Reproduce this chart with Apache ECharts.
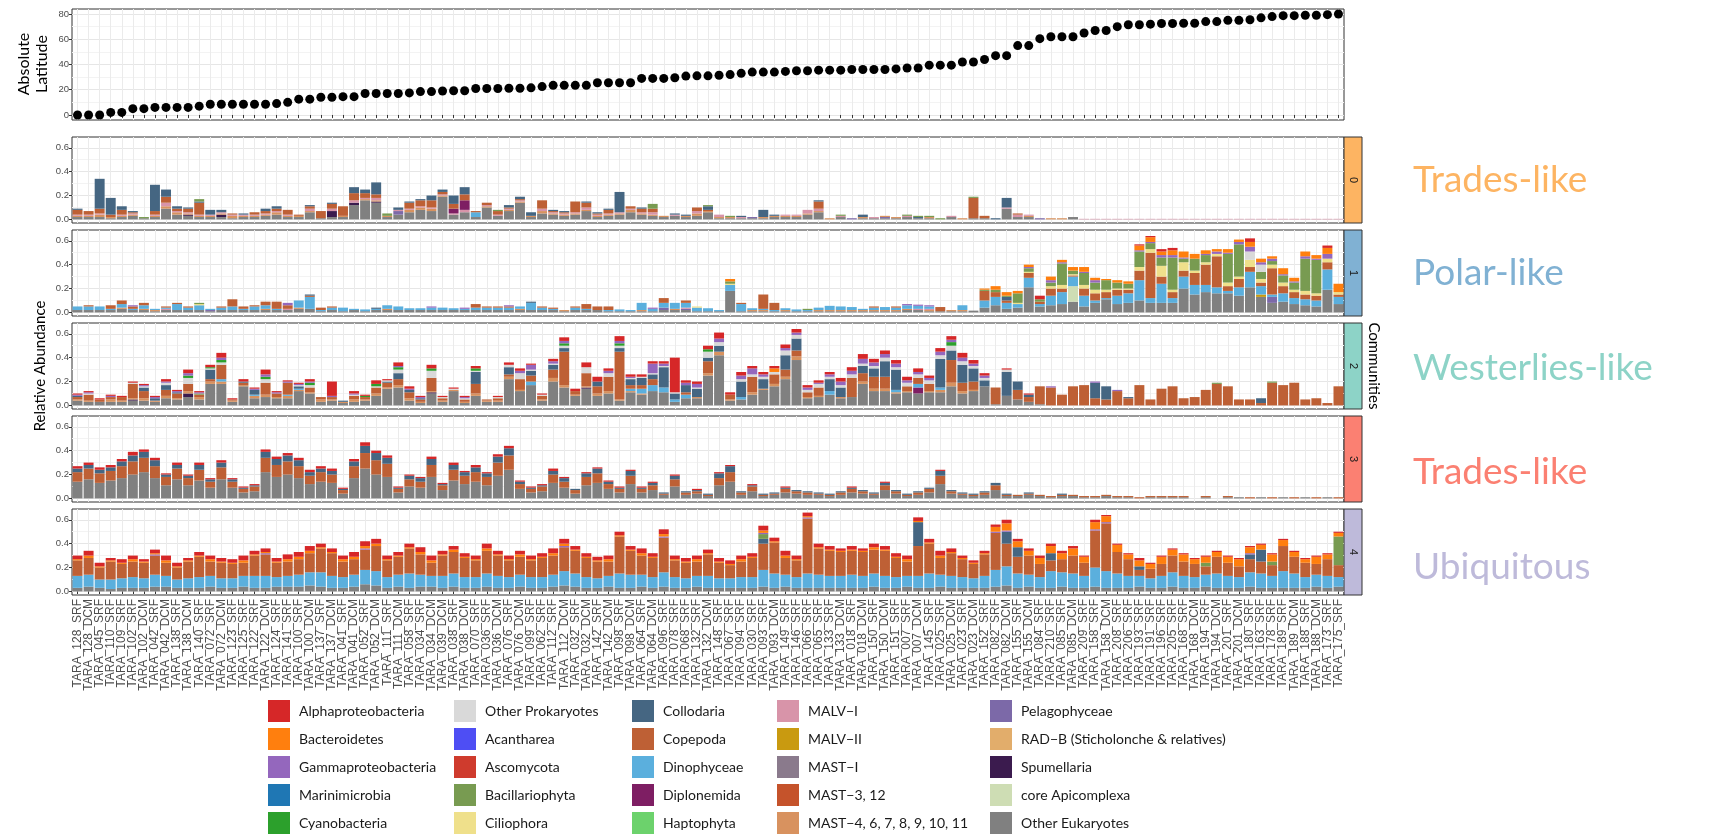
<!DOCTYPE html>
<html>
<head>
<meta charset="utf-8">
<script src="https://cdn.jsdelivr.net/npm/echarts@6/dist/echarts.min.js"></script>
<style>
  html, body { margin: 0; padding: 0; background: #fff; }
  #main { width: 1715px; height: 837px; }
</style>
</head>
<body>
<div id="main"></div>
<script>
// ---- samples, ordered by absolute latitude ----
var samples = [
  'TARA_128_SRF','TARA_128_DCM','TARA_045_SRF','TARA_110_SRF','TARA_109_SRF','TARA_102_SRF','TARA_102_DCM','TARA_042_SRF','TARA_042_DCM','TARA_138_SRF',
  'TARA_138_DCM','TARA_140_SRF','TARA_072_SRF','TARA_072_DCM','TARA_123_SRF','TARA_125_SRF','TARA_122_SRF','TARA_122_DCM','TARA_124_SRF','TARA_141_SRF',
  'TARA_100_SRF','TARA_100_DCM','TARA_137_SRF','TARA_137_DCM','TARA_041_SRF','TARA_041_DCM','TARA_052_SRF','TARA_052_DCM','TARA_111_SRF','TARA_111_DCM',
  'TARA_058_SRF','TARA_034_SRF','TARA_034_DCM','TARA_039_DCM','TARA_038_SRF','TARA_038_DCM','TARA_070_SRF','TARA_036_SRF','TARA_036_DCM','TARA_076_SRF',
  'TARA_076_DCM','TARA_099_SRF','TARA_062_SRF','TARA_112_SRF','TARA_112_DCM','TARA_032_SRF','TARA_032_DCM','TARA_142_SRF','TARA_142_DCM','TARA_098_SRF',
  'TARA_098_DCM','TARA_064_SRF','TARA_064_DCM','TARA_096_SRF','TARA_078_SRF','TARA_068_SRF','TARA_132_SRF','TARA_132_DCM','TARA_148_SRF','TARA_067_SRF',
  'TARA_094_SRF','TARA_030_SRF','TARA_093_SRF','TARA_093_DCM','TARA_149_SRF','TARA_146_SRF','TARA_066_SRF','TARA_065_SRF','TARA_133_SRF','TARA_133_DCM',
  'TARA_018_SRF','TARA_018_DCM','TARA_150_SRF','TARA_150_DCM','TARA_151_SRF','TARA_007_SRF','TARA_007_DCM','TARA_145_SRF','TARA_025_SRF','TARA_025_DCM',
  'TARA_023_SRF','TARA_023_DCM','TARA_152_SRF','TARA_082_SRF','TARA_082_DCM','TARA_155_SRF','TARA_155_DCM','TARA_084_SRF','TARA_210_SRF','TARA_085_SRF',
  'TARA_085_DCM','TARA_209_SRF','TARA_158_SRF','TARA_158_DCM','TARA_208_SRF','TARA_206_SRF','TARA_193_SRF','TARA_191_SRF','TARA_196_SRF','TARA_205_SRF',
  'TARA_168_SRF','TARA_168_DCM','TARA_194_SRF','TARA_194_DCM','TARA_201_SRF','TARA_201_DCM','TARA_180_SRF','TARA_163_SRF','TARA_178_SRF','TARA_189_SRF',
  'TARA_189_DCM','TARA_188_SRF','TARA_188_DCM','TARA_173_SRF','TARA_175_SRF'
];

var latitude = [
  0,0,0,2,2,5,5,6,6,6,
  6,7,8.5,8.5,8.5,8.5,8.5,8.5,9,10,
  12.5,12.5,14,14,14.5,14.5,17,17,17,17,
  17.5,18.5,18.5,19,19.2,19.2,21,21,21,21.2,
  21.2,21.5,22.5,23.5,23.5,23.5,23.5,25.5,25.5,25.5,
  25.5,29,29,29,29.5,30.8,31,31,31.5,32,
  33,34,34,34,34.5,35,35,35.5,35.5,35.5,
  36,36,36,36,36.5,37.2,37.2,39.5,39.5,39.5,
  42,42,44,47,47,55,55,60.5,62,62,
  62,65,67,67,70,71.5,71.5,72,72.5,72.5,
  72.7,72.7,74,74,75,75,75.5,77,78,78.7,
  78.7,79,79,79.5,80
];

// ---- relative abundance, in hundredths (0.01) ----
// community 0
var c0_oe = [2,2,2,1,2,3,1,2,9,4, 3,2,2,2,1,2,2,3,4,2, 2,6,1,2,2,12,16,14,2,4, 6,8,7,19,4,6,2,10,3,7, 14,2,5,4,3,4,7,2,3,4, 6,4,3,2,3,2,3,6,1,1, 1,1,1,2,2,2,4,6,0,2, 0,1,1,1,1,2,1,1,0,2, 0,1,1,0,9,2,2,0,0,0, 2,0,0,0,0,0,0,0,0,0, 0,0,0,0,0,0,0,0,0,0, 0,0,0,0,0];
var c0_spum = [0,0,0,0,0,0,0,0,0,0, 1,0,0,2,0,0,0,0,0,0, 0,0,0,5,0,2,0,1,0,0, 0,0,0,0,0,0,0,0,0,0, 0,0,0,0,0,0,0,0,0,0, 0,0,0,0,0,0,0,0,0,0, 0,0,0,0,0,0,0,0,0,0, 0,0,0,0,0,0,0,0,0,0, 0,0,0,0,0,0,0,0,0,0, 0,0,0,0,0,0,0,0,0,0, 0,0,0,0,0,0,0,0,0,0, 0,0,0,0,0];
var c0_pel = [0,0,0,0,0,0,0,0,0,0, 0,0,0,0,0,0,0,0,0,0, 0,0,0,0,0,0,0,0,0,3, 0,0,0,0,0,0,0,0,0,0, 0,0,0,0,0,0,0,0,0,0, 0,0,0,0,0,0,0,0,0,0, 0,1,0,0,0,0,0,0,0,0, 1,0,0,1,0,0,0,0,0,0, 0,0,0,0,0,0,0,1,0,0, 0,0,0,0,0,0,0,0,0,0, 0,0,0,0,0,0,0,0,0,0, 0,0,0,0,0];
var c0_mast = [1,1,2,1,1,1,0,1,2,2, 1,1,1,1,2,1,1,1,2,1, 1,1,0,0,1,0,1,1,1,0, 2,2,2,1,0,0,0,1,0,1, 1,1,2,1,1,1,1,1,1,1, 2,1,1,1,0,1,2,1,1,1, 0,0,1,1,1,1,1,1,1,0, 0,1,0,1,1,0,0,1,0,0, 1,0,0,0,0,0,1,0,1,1, 0,0,0,0,0,0,0,0,0,0, 0,0,0,0,0,0,0,0,0,0, 0,0,0,0,0];
var c0_malv = [1,1,1,0,1,1,0,1,3,1, 1,1,1,1,1,1,1,1,1,1, 0,2,0,2,0,2,1,2,0,1, 1,1,1,1,1,2,0,1,1,1, 1,0,2,1,1,1,2,1,1,1, 1,1,2,0,1,0,2,0,2,0, 1,0,0,0,1,1,3,2,0,1, 0,0,1,0,0,1,0,0,0,1, 0,0,0,0,1,2,1,0,0,0, 0,0.5,0.5,0.5,0.5,0.5,0.5,0.5,0.5,0.5, 0.5,0.5,0.5,0.5,0.5,0.5,0.5,0.5,0.5,0.5, 0.5,0.5,0.5,0.5,0.5];
var c0_dipl = [0,0,0,0,0,0,0,0,0,0, 0,0,0,0,0,0,0,0,0,0, 0,0,0,0,0,0,0,0,0,0, 0,0,0,0,4,8,0,0,0,0, 0,0,0,0,0,0,0,0,0,0, 0,0,0,0,0,0,0,0,0,0, 0,0,0,0,0,0,0,0,0,0, 0,0,0,0,0,0,0,0,0,0, 0,0,0,0,0,0,0,0,0,0, 0,0,0,0,0,0,0,0,0,0, 0,0,0,0,0,0,0,0,0,0, 0,0,0,0,0];
var c0_dino = [0,0,0,0,0,0,0,0,0,0, 0,0,0,0,0,0,0,0,0,0, 0,0,0,0,0,0,0,0,0,0, 0,0,0,0,0,0,4,0,0,0, 0,0,0,0,0,0,0,0,0,0, 0,0,0,0,0,0,0,0,0,0, 0,0,0,0,0,0,0,0,0,0, 0,0,0,0,0,0,0,0,0,0, 0,0,0,0,0,0,0,0,0,0, 0,0,0,0,0,0,0,0,0,0, 0,0,0,0,0,0,0,0,0,0, 0,0,0,0,0];
var c0_cope = [4,3,4,2,4,1,0,3,5,2, 3,10,0,0,1,0,2,2,2,4, 1,2,6,4,8,6,4,3,0,0, 5,5,6,2,4,5,1,2,3,1, 1,0,7,1,1,9,4,1,3,0, 2,3,3,0,0,0,3,1,0,0, 0,0,0,0,0,0,0,6,0,0, 0,0,0,0,0,0,0,0,0,0, 0,17,2,0,0,1,0,0,0,0, 0,0,0,0,0,0,0,0,0,0, 0,0,0,0,0,0,0,0,0,0, 0,0,0,0,0];
var c0_coll = [1,0,25,14,3,1,0,22,6,2, 1,1,4,2,0,1,0,2,2,0, 0,1,0,1,0,5,3,10,0,2, 1,1,4,2,7,6,0,0,0,2, 2,3,0,1,1,0,1,1,1,17, 0,1,0,0,1,1,0,3,0,0, 1,0,6,1,0,0,0,1,0,0, 0,2,0,0,0,0,1,0,0,0, 0,0,0,1,8,0,0,0,0,0, 0,0,0,0,0,0,0,0,0,0, 0,0,0,0,0,0,0,0,0,0, 0,0,0,0,0];
var c0_bacil = [0,0,0,0,0,0,1,0,0,0, 0,2,0,0,0,0,0,0,0,0, 0,0,0,0,0,0,0,0,2,0, 0,0,0,0,0,0,0,0,1,0, 0,0,0,0,0,0,0,0,0,0, 0,0,4,0,0,0,0,1,0,1, 0,0,0,0,0,0,0,0,0,1, 0,0,0,0,0,1,1,1,1,0, 0,1,0,0,0,0,0,0,0,0, 0,0,0,0,0,0,0,0,0,0, 0,0,0,0,0,0,0,0,0,0, 0,0,0,0,0];

// community 1
var c1_oe = [2,2,2,2,3,2,2,1,2,2, 2,2,1,2,2,2,2,2,2,2, 3,3,1,2,1,2,1,2,2,2, 2,2,2,2,2,2,2,2,2,2, 2,2,2,2,1,2,2,2,1,1, 1,1,1,2,2,2,1,1,1,18, 1,1,1,1,1,1,1,1,1,1, 1,1,1,1,1,2,2,1,1,1, 1,1.5,4,6,3,4,21,5,6,7, 9,5,8,11,7,8,10,8,8,8, 20,15,17,16,16,14,21,13,8,9, 7,6,5,19,7];
var c1_capi = [0,0,0,0,0,0,0,0,0,0, 0,0,0,0,0,0,0,0,0,0, 0,0,0,0,0,0,0,0,0,0, 0,0,0,0,0,0,0,0,0,0, 0,0,0,0,0,0,0,0,0,0, 0,0,0,0,0,0,0,0,0,0, 0,0,0,0,0,0,0,0,0,0, 0,0,0,0,0,0,0,0,0,0, 0,0,0,0,0,0,0,0,0,0, 13,0,0,0,0,0,0,0,0,0, 0,0,0,0,0,0,0,0,0,0, 0,0,0,0,0];
var c1_pel = [0,0,0,0,0,0,0,0,0,0, 0,0,1,0,0,0,0,0,0,0, 0,0,0,0,0,0,0,0,0,0, 0,0,0,0,0,0,0,0,0,0, 0,0,0,0,0,0,0,0,0,0, 0,0,0,2,0,1,0,0,0,0, 0,0,0,0,0,0,0,0,0,0, 0,0,0,0,0,0,0,0,0,0, 0,0,0,0,0,0,0,0,0,0, 0,0,0,0,0,0,0,0,0,0, 0,0,0,0,0,0,0,0,5,0, 0,0,0,0,0];
var c1_mast = [0,0,0,0,1,0,1,1,0,0, 0,0,0,0,0,0,0,1,0,0, 1,0,0,0,0,0,0,0,1,0, 0,0,0,0,0,0,0,0,0,0, 1,0,0,0,1,0,0,0,0,0, 0,1,0,0,1,0,0,0,0,0, 0,1,1,0,1,0,0,1,1,1, 1,1,1,1,1,1,0,1,0,1, 1,0,0,0,0,0,0,0,0,0, 0,0,0,0,0,0,0,0,0,0, 0,0,0,0,0,0,0,0,0,0, 0,0,0,0,0];
var c1_malv2 = [0,0,0,0,0,0,0,0,0,0, 0,0,0,0,0,0,0,0,0,0, 0,0,0,0,0,0,0,0,0,0, 0,0,0,0,0,0,0,0,0,0, 0,0,0,0,0,0,0,0,0,0, 0,0,0,0,0,0,0,0,0,0, 0,0,0,0,0,0,0,0,0,0, 0,0,0,0,0,0,0,0,0,0, 0,0,0,0,0,0,0,0,0,0, 0,0,0,0,0,0,0,0,0,0, 0,0,0,0,0,0,0,2,0,0, 0,0,0,0,0];
var c1_malv = [0,0,0,0,0,0,0,0,1,0, 0,0,0,0,0,0,0,0,0,1, 0,0,0,0,0,0,0,0,0,0, 0,0,0,0,0,0,0,0,0,0, 0,0,0,0,0,0,0,0,0,0, 0,0,0,0,0,1,0,0,0,0, 0,0,0,0,0,0,0,0,0,0, 0,0,0,0,0,0,1,1,0,0, 0,0,0,0,0,0,0,0,0,0, 0,0,0,0,0,0,0,0,0,0, 0,0,0,0,0,0,0,0,0,0, 0,0,0,0,0];
var c1_dino = [3,3,3,1,3,1,3,1,1,5, 2,4,1,2,3,1,3,3,1,0, 6,10,1,2,3,1,1.5,1,3,3, 1.5,1.5,2,2,1.5,1,2,2,2,2, 2,6,2,1,0,2,1,0,1,1.5, 1,6,2,4,5,4,3,2.5,1,5, 6,1.5,1,1,1.5,1.5,1,2,3.5,3, 2.5,1,2,2.5,2,3,2.5,2,0,0, 4,0,6,7,5,3,8,2,8,10, 8,9,2,1,7,8,17,4,16,4, 10,8,6,5,2,7,13,7,2,7, 5,5,5,17,6];
var c1_cope = [0,1,0,3,3,2,2,0,1,1, 1,0,0,1,6,2,1,3,6,3, 0,1,2,1,0,0,0,0,0,0, 0,0,0,0,0,0,3,1,1,1, 0,0,1,1,0,1,4,3,3,0, 0,0,0,4,0,2,0,0,0,0, 1,0,12,6,0,0,0,0,0,0, 0,0,1,0,1,0,0,0,3.5,0, 0,0,8,4,2,0,4,2,6,3, 1,6,6,5,5,3,8,38,6,5, 5,10,17,26,4,7,4,3,22,6, 5,4,4,6,2];
var c1_coll = [0,0,0,0,0,0,0,0,0,0, 0,0,0,0,0,0,0,0,0,0, 0,1,0,0,0,0,0,1,0,0, 0,0,0,0,0,0,0,0,0,0, 0,1,0,0,0,0,0,0,0,0, 0,0,0,0,0,0,0,0,0,0, 0,0,0,0,0,0,0,0,0,0, 0,0,0,0,0,0,0,0,0,0, 0,0,0,0,3,0,0,0,0,0, 0,0,0,0,0,0,0,0,0,0, 0,0,0,0,0,0,0,0,0,0, 0,0,0,0,0];
var c1_cili = [0,0,0,0,0,0,0,0,0,0, 0,1,0,0,0,0,0,0,0,0, 0,0,0,0,0,0,0,0,0,0, 0,0,0,0,0,0,0,0,0,0, 0,0,0,0,0,0,0,0,0,0, 0,0,0,0,0,0,1,0,0,1, 0,0,0,0,0,0,0,0,0,0, 0,0,0,0,0,0,0,0,0,0, 0,0,0,0,0,1,1,0,2,3, 1,3,3,2,1,1,3,3,9,2, 7,2,2,2,3,2,6,3,3,3, 2,3,2,3,2];
var c1_bacil = [0,0,0,0,0,0,0,0,0,0, 0,1,0,0,0,0,0,0,0,0, 0,0,0,0,0,0,0,0,0,0, 0,0,0,0,0,0,0,0,0,0, 0,0,0,0,0,0,0,0,0,0, 0,0,0,0,0,0,0,0,0,2, 0,0,0,0,0,0,1,0,0,0, 0,0,0,0,0,0,0,0,0,0, 0,0,1,2,1,8,3,2,3,18, 3,10,6,8,5,4,13,5,7,27, 3,10,6,0,24,27,0,6,3,6, 6,27,28,0,0];
var c1_oprok = [0,0,0,0,0,0,0,0,0,0, 0,0,0,0,0,0,0,0,0,0, 0,0,0,0,0,0,0,0,0,0, 0,0,0,0,0,0,0,0,0,0, 0,0,0,0,0,0,0,0,0,0, 0,0,0,0,0,0,0,0,0,0, 0,0,0,0,0,0,0,0,0,0, 0,0,0,0,0,0,0,0,0,0, 0,0,0,0,0,0,0,0,0,0, 0,0,0,0,0,0,0,0,0,0, 0,0,0,0,0,0,7,6,0,0, 0,0,0,0,0];
var c1_gamma = [0,0,0,0,0,1,0,0,0,0, 0,0,0,0,0,0,0,0,0,2, 0,0,0,0,0,0,0,0,0,0, 0,0,1,0,0,1,0,0,0,1, 0,0,0,0,0,0,0,0,0,0, 0,0,1,0,0,0,0,0,0,0, 0,0,0,0,0,0,0,0,0,0, 0,0,0,0,0,1,1,1,0,0, 0,0,0,0,0,0,1,0,2,1, 0,1,2,0,0,0,1,1,2,2, 1,0,1,2,1,2,4,2,2,1, 1,2,1,4,0];
var c1_bact = [0,0,0,0,0,0,0,0,0,0, 0,0,0,0,0,0,0,0,0,0, 0,0,0,0,0,0,0,0,0,0, 0,0,0,0,0,0,0,0,0,0, 0,0,0,0,0,0,0,0,0,0, 0,0,0,0,0,0,0,0,0,2, 0,0,0,0,0,0,0,0,0,0, 0,0,0,0,0,0,0,0,0,0, 0,0,1,3,3,2,2,0,3,2, 3,4,2,1,2,2,4,4,3,4, 5,4,3,2,3,2,4,3,2,5, 3,4,3,5,7];
var c1_alpha = [0,0,0,0,0,0,0,0,0,0, 0,0,0,0,0,0,0,0,0,0, 0,0,0,0,0,0,0,0,0,0, 0,0,0,0,0,0,0,0,0,0, 0,0,0,0,0,0,0,0,0,0, 0,0,0,0,0,0,0,0,0,0, 0,0,0,0,0,0,0,0,0,0, 0,0,0,0,0,0,0,0,0,0, 0,0,0,0,0,0,0,3,0,0, 0,0,0,0,0,0,1,1,2,2, 0,0,0,0,0,0,3,0,0,0, 0,0,0,2,0];

// community 2
var c2_oe = [4,3,3,3,3,4,4,3,6,5, 7,5,18,18,3,16,6,7,6,6, 12,10,3,4,2,3,4,8,14,15, 4,2,10,3,12,2,8,3,3,22, 12,17,4,20,15,8,14,8,10,4, 11,9,12,11,3,6,6,25,42,4, 5,9,13,16,22,38,6,7,9,6, 7,18,12,12,10,11,10,11,11,16, 10,12,16,1,8,5,3,1,0,0, 0,0,0,0,0,0,0,0,0,0, 0,0,0,0,0,0,0,0,0,0, 0,0,0,0,0];
var c2_spum = [0,0,0,0,0,1,0,0,0,0, 3,0,0,0,0,0,0,0,0,0, 0,0,0,0,0,0,0,0,0,0, 0,0,1,0,0,0,0,0,0,0, 0,0,0,0,0,0,1,0,0,0, 0,0,0,0,0,0,0,0,0,0, 0,0,0,0,0,0,0,0,0,0, 0,0,0,0,0,0,0,0,0,0, 0,0,0,0,0,0,0,0,0,0, 0,0,0,0,0,0,0,0,0,0, 0,0,0,0,0,0,0,0,0,0, 0,0,0,0,0];
var c2_mast = [1,1,0,2,1,1,2,1,2,1, 2,2,2,2,1,1,2,2,1,2, 1,1,2,1,1,2,1,2,1,2, 2,1,1,1,1,1,2,1,1,2, 1,0,1,3,2,1,1,2,2,1, 1,1,0,0,0,0,1,2,3,1, 0,2,1,2,2,3,1,1,0,1, 0,2,2,2,1,1,0,1,2,3, 2,1,0,0,0,0,0,0,0,0, 0,0,0,0,0,0,0,0,0,0, 0,0,0,0,0,0,0,0,0,0, 0,0,0,0,0];
var c2_dipl = [0,0,0,0,0,0,0,0,0,0, 0,0,0,0,0,0,0,0,0,0, 0,0,0,0,0,0,0,0,0,0, 0,0,0,0,0,0,0,0,0,0, 0,0,0,0,0,0,0,0,0,0, 0,0,0,0,0,0,0,0,0,0, 0,0,0,0,0,0,0,0,0,0, 0,0,0,0,0,0,5,0,0,0, 0,0,0,0,0,0,0,0,0,0, 0,0,0,0,0,0,0,0,0,0, 0,0,0,0,0,0,0,0,0,0, 0,0,0,0,0];
var c2_dino = [0,0,0,0,0,0,0,0,0,0, 0,0,0,2,0,0,1,0,0,1, 1,0,0,0,0,0,0,0,0,0, 0,0,0,0,0,0,0,0,0,0, 0,3,0,0,0,0,0,0,0,0, 2,4,5,4,2,3,0,0,0,0, 2,0,0,0,0,0,0,0,3,0, 0,0,0,0,2,0,3,0,2,0, 0,0,0,0,0,0,0,0,0,0, 0,0,0,0,0,0,0,0,0,0, 0,0,0,0,0,0,0,0,0,0, 0,0,0,0,0];
var c2_cope = [2,5,2,2,3,12,6,0,5,4, 6,2,2,12,1,2,0,10,3,10, 0,4,2,2,0,3,2,5,4,5, 5,2,11,2,0,2,8,1,2,2, 9,5,3,7,28,3,11,6,12,40, 3,3,5,0,0,2,0,10,0,4, 0,13,0,8,6,5,4,7,0,0, 16,7,10,10,0,4,5,6,0,19, 7,7,0,14,0,8,4,15,15,9, 16,17,6,5,12,6,17,5,14,16, 6,7,13,18,16,5,5,2,19,17, 19,5,6,2,16];
var c2_coll = [1,0,0,0,0,0,3,2,4,1, 0,0,8,0,0,1,4,0,0,0, 2,0,0,0,1,0,0,0,1,5, 2,1,0,0,0,0,10,0,0,6, 0,4,0,4,3,0,0,4,0,3, 5,6,4,17,5,6,7,3,5,0, 13,0,8,0,12,10,0,0,10,8, 0,6,7,13,17,0,0,0,24,8, 15,11,5,0,20,7,2,0,0,0, 0,0,13,11,0,1,0,0,0,0, 0,0,0,0,0,0,0,4,0,0, 0,0,0,0,0];
var c2_bacil = [0,0,0,0,0,0,0,0,0,0, 0,1,0,0,0,0,0,0,0,0, 0,0,0,0,0,0,0,0,0,0, 0,0,0,0,0,0,0,0,0,0, 0,0,0,0,0,0,0,0,0,0, 0,0,0,0,0,0,0,0,0,0, 0,0,0,0,0,0,0,0,0,0, 0,0,0,0,0,0,0,0,0,0, 0,0,0,0,0,0,0,0,0,0, 0,0,0,0,0,0,0,0,0,0, 0,0,0,1,0,0,0,0,1,0, 0,0,0,0,0];
var c2_oprok = [0,1,0,0,0,1,1,0,2,0, 5,0,1,2,0,0,0,3,0,0, 1,2,0,0,0,1,0,1,1,3, 0,0,6,1,1,1,1,0,1,2, 5,1,1,1,2,0,5,0,3,2, 1,1,1,1,1,0,1,5,3,0, 2,2,2,2,4,3,2,3,2,2, 3,2,2,3,2,3,3,3,3,4, 3,2,2,0,2,0,0,0,0,0, 0,0,0,0,0,0,0,0,0,0, 0,0,0,0,0,0,0,0,0,0, 0,0,0,0,0];
var c2_cyano = [0,0,0,0,0,0,0,0,0,0, 2,0,1,2,0,0,0,2,0,0, 0,2,0,0,0,0,1,2,0,2, 0,0,2,0,0,0,2,0,0,0, 0,0,0,0,2,0,0,0,0,2, 0,0,0,0,0,0,0,2,0,0, 0,0,0,0,0,0,0,0,0,0, 0,0,0,0,0,0,0,0,0,3, 0,0,0,0,0,0,0,0,0,0, 0,0,0,0,0,0,0,0,0,0, 0,0,0,0,0,0,0,0,0,0, 0,0,0,0,0];
var c2_gamma = [1,1,0,1,0,0,1,1,1,1, 2,1,0,2,0,0,1,2,1,1, 1,1,0,1,0,1,0,0,0,1, 1,1,0,0,0,1,0,0,0,0, 2,4,0,2,2,0,0,0,2,2, 1,0,8,2,0,2,3,0,3,0, 3,5,2,0,2,2,2,1,2,3, 3,4,3,3,3,2,2,2,3,2, 3,2,2,0,0,0,0,0,1,0, 0,0,1,0,1,0,0,0,0,0, 0,0,0,0,0,0,0,0,0,0, 0,0,0,0,0];
var c2_bact = [0,0,0,0,0,0,0,0,0,0, 0,0,0,0,0,0,0,0,0,0, 0,0,0,0,0,0,0,0,0,0, 0,0,0,0,0,0,0,0,0,0, 0,0,0,0,0,0,0,0,0,0, 0,0,0,0,0,0,0,0,0,0, 0,0,0,3,0,0,0,0,0,0, 0,0,0,0,0,0,0,0,0,0, 0,0,0,0,0,0,0,0,0,0, 0,0,0,0,0,0,0,0,0,0, 0,0,0,0,0,0,0,0,0,0, 0,0,0,0,0];
var c2_alpha = [1,1,1,1,1,1,1,1,2,1, 3,1,2,4,1,2,1,4,1,1, 1,2,0,12,0,2,1,3,1,3, 2,1,3,1,1,1,2,0,1,2, 2,1,1,2,3,2,4,4,2,4, 2,2,2,2,29,2,2,3,5,2, 3,2,2,2,3,3,2,2,2,3, 3,4,3,3,3,3,3,2,3,3, 4,3,2,0,1,0,1,0,0,0, 0,0,0,0,0,0,0,0,0,0, 0,0,0,0,0,0,0,0,0,0, 0,0,0,0,0];

// community 3
var c3_oe = [14,16,13,15,17,20,22,17,11,16, 11,15,9,16,9,5,6,22,18,20, 17,12,14,13,4,17,25,20,18,5, 10,9,18,7,15,12,14,11,19,24, 8,5,6,13,9,4,11,13,8,5, 12,5,7,3,10,3,4,2,11,14, 3,6,2,3,5,4,3,3,2,3, 5,4,3,7,4,2,3,5,12,4, 3,2,3,7,2,2,3,2,1,2, 2,1,1,2,1,1,0,1,1,1, 1,0,1,0,1,1,0,1,0,1, 0,1,0,1,0];
var c3_cope = [8,9,8,8,10,11,12,10,7,9, 6,9,5,10,5,3,4,12,10,11, 10,7,8,7,3,10,13,12,11,3, 6,5,10,4,9,7,8,7,11,12, 4,3,4,7,5,3,7,8,4,3, 7,3,4,1,6,2,2,1,6,8, 2,4,1,1,3,2,2,1,1,2, 3,2,1,4,2,1,2,3,7,2, 1,1,2,4,1,1,1,1,1,1, 1,1,1,1,1,1,1,1,1,1, 1,0,1,0,1,0,1,0,1,0, 1,0,1,0,1];
var c3_coll = [3,3,3,3,4,5,5,5,2,3, 2,4,2,4,2,1,1,5,5,5, 5,3,3,3,1,4,6,6,5,1, 3,3,5,1,4,3,4,3,5,6, 2,1,1,3,3,1,3,4,2,1, 4,1,2,1,3,1,1,1,4,5, 1,1,1,1,1,1,1,1,1,1, 1,1,1,2,1,1,1,1,4,1, 1,1,1,2,1,0,1,0,0,1, 0,0,0,0,0,0,0,0,0,0, 0,0,0,0,0,0,0,0,0,0, 0,0,0,0,0];
var c3_alpha = [2,2,2,2,2,3,2,2,1,2, 1,2,1,2,1,1,1,2,2,2, 2,2,2,2,1,2,3,2,2,1, 1,1,2,1,2,1,2,1,2,2, 1,1,1,2,1,0,1,1,1,1, 1,1,1,0,1,0,1,0,1,1, 0,1,0,0,1,0,0,0,0,0, 1,0,0,1,0,0,0,0,1,0, 0,0,0,0,0,0,0,0,0,0, 0,0,0,0,0,0,0,0,0,0, 0,0,0,0,0,0,0,0,0,0, 0,0,0,0,0];

// community 4
var c4_oe = [3,4,3,2,3,3,3,4,4,3, 3,3,4,3,3,4,3,3,4,4, 4,5,4,3,3,4,6,5,3,4, 3,4,4,3,4,3,3,4,3,3, 4,3,3,4,5,4,3,3,4,3, 3,4,3,4,3,3,4,3,3,3, 3,3,4,3,4,3,3,3,3,3, 3,3,4,3,3,4,3,3,4,3, 3,3,3,4,5,3,4,3,3,4, 3,3,4,3,3,3,4,3,3,4, 3,3,4,3,3,3,4,3,3,3, 3,3,4,3,4];
var c4_dino = [10,10,7,8,8,9,8,10,9,7, 8,9,9,8,8,9,10,10,8,9, 10,11,12,10,9,10,12,12,9,10, 12,10,9,10,11,9,9,11,10,9, 10,9,9,10,12,11,9,8,9,12, 11,10,9,12,9,8,9,10,8,8, 9,9,14,12,10,9,12,11,10,10, 11,10,11,10,9,9,10,12,10,10, 9,8,10,14,16,12,10,9,14,12, 12,10,16,14,12,10,9,8,10,12, 10,9,10,12,10,9,12,12,10,14, 12,9,10,10,8];
var c4_cope = [13,14,10,15,12,13,13,16,11,10, 14,17,12,13,12,11,17,18,12,12, 13,16,20,19,13,13,17,21,14,15, 21,17,11,17,18,16,14,19,17,14, 15,14,16,16,20,19,16,14,12,31, 20,16,16,29,14,13,12,18,13,11, 13,16,22,26,14,14,46,22,21,20, 20,20,20,21,16,12,25,25,14,19, 15,12,18,31,19,14,16,11,9,11, 15,11,31,40,18,14,5,8,10,14, 12,11,7,14,11,9,11,10,9,21, 14,12,9,14,10];
var c4_coll = [0,0,0,0,0,0,0,0,0,0, 0,0,0,0,0,0,0,0,0,0, 0,0,0,0,0,0,0,0,0,0, 0,0,0,0,0,0,0,0,0,0, 0,0,0,0,0,0,0,0,0,0, 0,0,0,0,0,0,0,0,0,0, 0,0,4,0,0,0,0,0,0,0, 0,0,0,0,0,0,20,0,0,0, 0,0,0,0,10,8,0,0,6,0, 0,0,0,0,0,0,3,0,0,0, 0,0,0,0,0,0,4,10,0,0, 0,0,0,0,0];
var c4_bacil = [0,0,0,0,0,0,0,0,0,0, 0,0,0,0,0,0,0,0,0,0, 0,0,0,0,0,0,0,0,0,0, 0,0,0,0,0,0,0,0,0,0, 0,0,0,0,0,0,0,0,0,0, 0,0,0,0,0,0,0,0,0,0, 0,0,4,0,0,0,0,0,0,0, 0,0,0,0,0,0,0,0,0,0, 0,0,0,0,0,0,0,0,0,0, 0,0,0,0,0,0,0,0,0,0, 0,0,3,0,0,0,0,0,3,0, 0,0,0,0,24];
var c4_gamma = [0,0,0,0,0,0,0,1,0,0, 0,0,0,0,0,0,0,1,0,0, 0,0,0,0,0,0,1,0,0,0, 0,0,0,0,0,0,0,0,0,0, 0,0,0,0,1,0,0,0,0,0, 0,0,0,1,0,0,0,0,0,0, 0,0,1,0,0,0,1,0,0,0, 0,0,0,0,0,0,0,0,0,0, 0,0,0,1,1,0,0,0,0,0, 0,0,1,1,0,0,0,0,0,0, 0,0,0,0,0,0,1,0,0,0, 0,0,0,0,0];
var c4_bact = [1,2,1,1,1,2,1,1,2,1, 1,1,2,1,1,2,1,1,1,2, 2,2,1,1,2,2,2,2,1,1, 1,2,2,1,2,1,1,2,1,1, 2,1,1,2,2,1,1,1,2,1, 1,2,1,2,1,1,2,1,1,1, 2,1,2,1,2,1,1,1,1,1, 1,1,2,1,1,2,1,1,2,1, 1,1,1,4,6,5,4,5,6,5, 6,5,6,5,6,4,5,4,6,5, 6,4,5,4,5,6,5,4,6,5, 4,3,6,4,3];
var c4_alpha = [3,4,3,2,3,3,2,3,4,3, 2,3,3,3,3,4,3,3,3,4, 4,4,3,3,3,4,4,4,3,3, 3,4,4,3,3,3,3,4,3,3, 3,3,3,4,4,3,3,3,3,3, 3,4,3,4,3,3,3,3,3,3, 3,3,4,3,4,3,3,3,3,2, 3,2,3,3,3,3,3,3,4,3, 2,2,2,2,3,2,2,2,2,2, 2,1,2,1,1,1,2,1,1,1, 1,1,1,1,1,1,1,1,1,1, 1,1,1,1,1];

// ---- taxa, bottom of stack first ----
var taxa = [
  ['Other Eukaryotes', '#808080'],
  ['core Apicomplexa', '#CEDDB4'],
  ['Spumellaria', '#3B1B4E'],
  ['RAD\u2212B (Sticholonche & relatives)', '#E2AD6B'],
  ['Pelagophyceae', '#7C69A8'],
  ['MAST\u22124, 6, 7, 8, 9, 10, 11', '#D8925F'],
  ['MAST\u22123, 12', '#C5532B'],
  ['MAST\u2212I', '#8A7A8C'],
  ['MALV\u2212II', '#C99A10'],
  ['MALV\u2212I', '#D894A9'],
  ['Haptophyta', '#6CD26C'],
  ['Diplonemida', '#7E1E63'],
  ['Dinophyceae', '#5BAFDD'],
  ['Copepoda', '#BE6035'],
  ['Collodaria', '#456682'],
  ['Ciliophora', '#EFE08B'],
  ['Bacillariophyta', '#789B51'],
  ['Ascomycota', '#CF3B2D'],
  ['Acantharea', '#4E4EF4'],
  ['Other Prokaryotes', '#D9D9D9'],
  ['Cyanobacteria', '#2CA02C'],
  ['Marinimicrobia', '#1F77B4'],
  ['Gammaproteobacteria', '#9467BD'],
  ['Bacteroidetes', '#FF7F0E'],
  ['Alphaproteobacteria', '#D62728']
];

var legendCols = [
  ['Alphaproteobacteria', 'Bacteroidetes', 'Gammaproteobacteria', 'Marinimicrobia', 'Cyanobacteria'],
  ['Other Prokaryotes', 'Acantharea', 'Ascomycota', 'Bacillariophyta', 'Ciliophora'],
  ['Collodaria', 'Copepoda', 'Dinophyceae', 'Diplonemida', 'Haptophyta'],
  ['MALV\u2212I', 'MALV\u2212II', 'MAST\u2212I', 'MAST\u22123, 12', 'MAST\u22124, 6, 7, 8, 9, 10, 11'],
  ['Pelagophyceae', 'RAD\u2212B (Sticholonche & relatives)', 'Spumellaria', 'core Apicomplexa', 'Other Eukaryotes']
];

var communities = ['Trades-like', 'Polar-like', 'Westerlies-like', 'Trades-like', 'Ubiquitous'];
var communityColors = ['#FDB462', '#80B1D3', '#8DD3C7', '#FB8072', '#BEBADA'];

var panels = [
  { 'Other Eukaryotes': c0_oe, 'Spumellaria': c0_spum, 'Pelagophyceae': c0_pel,
    'MAST\u22124, 6, 7, 8, 9, 10, 11': c0_mast, 'MALV\u2212I': c0_malv, 'Diplonemida': c0_dipl,
    'Dinophyceae': c0_dino, 'Copepoda': c0_cope, 'Collodaria': c0_coll, 'Bacillariophyta': c0_bacil },
  { 'Other Eukaryotes': c1_oe, 'core Apicomplexa': c1_capi, 'Pelagophyceae': c1_pel,
    'MAST\u22124, 6, 7, 8, 9, 10, 11': c1_mast, 'MALV\u2212II': c1_malv2, 'MALV\u2212I': c1_malv,
    'Dinophyceae': c1_dino, 'Copepoda': c1_cope, 'Collodaria': c1_coll, 'Ciliophora': c1_cili,
    'Bacillariophyta': c1_bacil, 'Other Prokaryotes': c1_oprok, 'Gammaproteobacteria': c1_gamma,
    'Bacteroidetes': c1_bact, 'Alphaproteobacteria': c1_alpha },
  { 'Other Eukaryotes': c2_oe, 'Spumellaria': c2_spum, 'MAST\u22124, 6, 7, 8, 9, 10, 11': c2_mast,
    'Diplonemida': c2_dipl, 'Dinophyceae': c2_dino, 'Copepoda': c2_cope, 'Collodaria': c2_coll,
    'Bacillariophyta': c2_bacil, 'Other Prokaryotes': c2_oprok, 'Cyanobacteria': c2_cyano,
    'Gammaproteobacteria': c2_gamma, 'Bacteroidetes': c2_bact, 'Alphaproteobacteria': c2_alpha },
  { 'Other Eukaryotes': c3_oe, 'Copepoda': c3_cope, 'Collodaria': c3_coll, 'Alphaproteobacteria': c3_alpha },
  { 'Other Eukaryotes': c4_oe, 'Dinophyceae': c4_dino, 'Copepoda': c4_cope, 'Collodaria': c4_coll,
    'Bacillariophyta': c4_bacil, 'Gammaproteobacteria': c4_gamma, 'Bacteroidetes': c4_bact,
    'Alphaproteobacteria': c4_alpha }
];

// ---- layout ----
var plotLeft = 72, plotRight = 1344;
var gridTops = [9, 137, 230, 323, 416, 509];
var gridHeights = [111, 86, 86, 86, 86, 86];
var axisFont = "'Liberation Sans', Arial, sans-serif";
var titleFont = "Lato, 'Open Sans', sans-serif";

var clear = 'rgba(0,0,0,0)';
var major = '#e6e6e6', minor = '#f3f3f3';
// gridlines via a fine interval; colours cycle so only 0/20/40.. and 10/30/.. show
var latLineColors = [clear, clear, major, clear, clear, clear, clear, minor, clear, clear];
var barLineColors = [];
for (var k = 0; k < 20; k++) barLineColors.push(k === 3 ? major : (k === 13 ? minor : clear));

var grids = [], xAxes = [], yAxes = [];
gridTops.forEach(function (top, g) {
  grids.push({ left: plotLeft, width: plotRight - plotLeft, top: top, height: gridHeights[g],
    show: true, borderColor: '#333', borderWidth: 1, backgroundColor: '#fff' });
  var last = g === gridTops.length - 1;
  xAxes.push({
    type: 'category', gridIndex: g, data: samples, boundaryGap: true,
    axisLine: { show: false },
    axisTick: { show: g === 0 || last, alignWithLabel: true, interval: 0, length: 3,
      lineStyle: { color: '#333' } },
    axisLabel: { show: last, interval: 0, rotate: 90, fontSize: 12, color: '#4d4d4d',
      fontFamily: axisFont, margin: 4 },
    splitLine: { show: true, interval: 0, alignWithLabel: true, lineStyle: { color: '#ebebeb', width: 1 } }
  });
  var isLat = g === 0;
  var mn = isLat ? -4 : -3, mx = isLat ? 84 : 69;
  var ticks = isLat ? [0, 20, 40, 60, 80] : [0, 20, 40, 60];
  yAxes.push({
    type: 'value', gridIndex: g, min: mn, max: mx, interval: isLat ? 2 : 1,
    axisLine: { show: false }, axisTick: { show: false }, axisLabel: { show: false },
    splitLine: { show: true, lineStyle: { color: isLat ? latLineColors : barLineColors, width: 1 } }
  });
  yAxes.push({
    type: 'value', gridIndex: g, min: mn, max: mx, position: 'left',
    axisLine: { show: false }, splitLine: { show: false },
    axisTick: { show: true, customValues: ticks, length: 3, lineStyle: { color: '#333' } },
    axisLabel: { customValues: ticks, fontSize: 9.5, color: '#4d4d4d', fontFamily: axisFont, margin: 3,
      formatter: function (v) { return isLat ? String(v) : (v / 100).toFixed(1); } }
  });
});

var series = [{
  type: 'scatter', xAxisIndex: 0, yAxisIndex: 0, data: latitude,
  symbolSize: 9, itemStyle: { color: '#000', opacity: 1 }, silent: true, z: 5
}];
var used = {};
panels.forEach(function (pd, p) {
  taxa.forEach(function (t) {
    if (!pd[t[0]]) return;
    used[t[0]] = true;
    series.push({
      type: 'bar', name: t[0], stack: 'c' + p, xAxisIndex: p + 1, yAxisIndex: 2 * (p + 1),
      data: pd[t[0]], barCategoryGap: '10%', itemStyle: { color: t[1] }, silent: true
    });
  });
});
taxa.forEach(function (t) {
  if (used[t[0]]) return;
  series.push({ type: 'bar', name: t[0], stack: 'c4', xAxisIndex: 5, yAxisIndex: 10,
    data: [], barCategoryGap: '10%', itemStyle: { color: t[1] }, silent: true });
});

var legendX = [268, 454, 632, 777, 990];
var legends = legendCols.map(function (names, i) {
  return {
    orient: 'vertical', left: legendX[i], top: 700, padding: 0,
    itemWidth: 22, itemHeight: 22, itemGap: 6,
    icon: 'rect', selectedMode: false, data: names,
    textStyle: { fontSize: 14, color: '#1a1a1a', fontFamily: titleFont, padding: [0, 0, 0, 4] }
  };
});

var graphics = [
  { type: 'text', x: 33, y: 64, rotation: Math.PI / 2,
    style: { text: 'Absolute\nLatitude', fontSize: 16, lineHeight: 18, fontFamily: titleFont,
      fill: '#000', align: 'center', verticalAlign: 'middle' } },
  { type: 'text', x: 40, y: 366, rotation: Math.PI / 2,
    style: { text: 'Relative Abundance', fontSize: 15, fontFamily: titleFont, fill: '#000',
      align: 'center', verticalAlign: 'middle' } },
  { type: 'text', x: 1374, y: 366, rotation: -Math.PI / 2,
    style: { text: 'Communities', fontSize: 15, fontFamily: titleFont, fill: '#000',
      align: 'center', verticalAlign: 'middle' } }
];
var labelY = [180, 273, 368, 472, 567];
communities.forEach(function (name, p) {
  var top = gridTops[p + 1], h = gridHeights[p + 1];
  graphics.push({ type: 'rect', shape: { x: plotRight, y: top, width: 18, height: h },
    style: { fill: communityColors[p], stroke: '#333', lineWidth: 1 } });
  graphics.push({ type: 'text', x: plotRight + 9, y: top + h / 2, rotation: -Math.PI / 2,
    style: { text: String(p), fontSize: 11, fill: '#1a1a1a', fontFamily: axisFont,
      align: 'center', verticalAlign: 'middle' } });
  graphics.push({ type: 'text', x: 1413, y: labelY[p],
    style: { text: name, fontSize: 37, fill: communityColors[p], fontFamily: titleFont,
      align: 'left', verticalAlign: 'middle' } });
});

var chart = echarts.init(document.getElementById('main'), null, { renderer: 'canvas' });
chart.setOption({
  backgroundColor: '#fff',
  animation: false,
  grid: grids,
  xAxis: xAxes,
  yAxis: yAxes,
  legend: legends,
  series: series,
  graphic: graphics
});
</script>
</body>
</html>
